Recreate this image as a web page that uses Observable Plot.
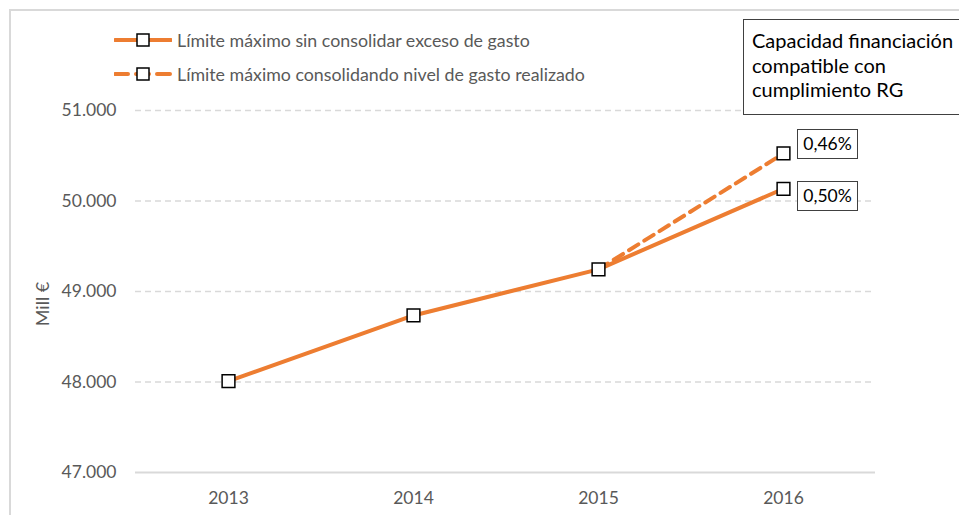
<!DOCTYPE html>
<html><head><meta charset="utf-8">
<script src="https://cdn.jsdelivr.net/npm/d3@7"></script>
<script src="https://cdn.jsdelivr.net/npm/@observablehq/plot@0.6"></script>
<style>
body{margin:0;background:#fff;font-family:Lato,"Open Sans",sans-serif;}
#wrap{position:relative;width:959px;height:515px;overflow:hidden;}
#frame{position:absolute;left:9px;top:9px;width:2000px;height:2000px;border-left:2px solid #d9d9d9;border-top:2px solid #d9d9d9;box-sizing:border-box;}
#chart{position:absolute;left:0;top:0;}
.leg{position:absolute;left:114px;display:flex;align-items:center;font-size:17.8px;color:#595959;white-space:nowrap;}
.leg svg{margin-right:5px;}
#note{position:absolute;left:743px;top:19px;width:260px;height:96px;border:1.5px solid #404040;box-sizing:border-box;padding:8px 0 0 8px;font-size:20px;line-height:24.5px;color:#000;background:#fff;white-space:nowrap;}
.pct{position:absolute;width:61px;height:30px;border:1.5px solid #404040;box-sizing:border-box;font-size:17.5px;line-height:27px;text-align:center;color:#000;background:#fff;}
#ylab{position:absolute;left:42px;top:304px;transform:translate(-50%,-50%) rotate(-90deg);font-size:18px;color:#595959;white-space:nowrap;}
</style></head>
<body>
<div id="wrap">
<div id="frame"></div>
<div id="chart"></div>
</div>
<script>
const years = ["2013", "2014", "2015", "2016"];
const solidValues = [48010, 48735, 49245, 50135];
const dashedYears = ["2015", "2016"];
const dashedValues = [49245, 50525];
const seriesNames = ["Límite máximo sin consolidar exceso de gasto", "Límite máximo consolidando nivel de gasto realizado"];
const pctLabels = ["0,50%", "0,46%"];
const yTicks = [47000, 48000, 49000, 50000, 51000];
const noteLines = ["Capacidad financiación", "compatible con", "cumplimiento RG"];
const yLabel = "Mill €";

const solid = years.map((y, i) => ({year: y, value: solidValues[i]}));
const dashed = dashedYears.map((y, i) => ({year: y, value: dashedValues[i]}));
const orange = "#ED7D31";
const fmt = v => d3.format(",")(v).replace(/,/g, ".");

const plot = Plot.plot({
  width: 959, height: 515,
  marginLeft: 135, marginRight: 84, marginTop: 110, marginBottom: 43,
  style: {fontFamily: "Lato, 'Open Sans', sans-serif", fontSize: "17.5px", color: "#595959", background: "transparent"},
  x: {type: "point", domain: years, padding: 0.5},
  y: {domain: [47000, 51000], ticks: yTicks},
  marks: [
    Plot.ruleY(yTicks.slice(1), {stroke: "#d9d9d9", strokeWidth: 1.5, strokeDasharray: "6,4"}),
    Plot.ruleY([47000], {stroke: "#d9d9d9", strokeWidth: 2}),
    Plot.axisY({ticks: yTicks, tickSize: 0, tickPadding: 19, tickFormat: fmt, label: null, fill: "#595959"}),
    Plot.axisX({tickSize: 0, tickPadding: 19, label: null, fill: "#595959"}),
    Plot.line(dashed, {x: "year", y: "value", stroke: orange, strokeWidth: 4, strokeDasharray: "11,7"}),
    Plot.line(solid, {x: "year", y: "value", stroke: orange, strokeWidth: 4}),
    Plot.dot(solid, {x: "year", y: "value", symbol: "square", r: 7.2, fill: "white", stroke: "black", strokeWidth: 1.5}),
    Plot.dot(dashed.slice(1), {x: "year", y: "value", symbol: "square", r: 7.2, fill: "white", stroke: "black", strokeWidth: 1.5})
  ]
});
document.getElementById("chart").appendChild(plot);

const wrap = document.getElementById("wrap");
// y label
const yl = document.createElement("div");
yl.id = "ylab"; yl.textContent = yLabel; wrap.appendChild(yl);
// legend
[[0, 40, null], [1, 74, "13,8"]].forEach(([i, cy, dash]) => {
  const d = document.createElement("div");
  d.className = "leg";
  d.style.top = (cy - 12) + "px";
  d.innerHTML = `<svg width="58" height="24"><line x1="1" x2="57" y1="12" y2="12" stroke="${orange}" stroke-width="4" stroke-linecap="round" ${dash ? `stroke-dasharray="${dash}"` : ""}/><rect x="23" y="6" width="12" height="12" fill="white" stroke="black" stroke-width="1.5"/></svg><span>${seriesNames[i]}</span>`;
  wrap.appendChild(d);
});
// note
const note = document.createElement("div");
note.id = "note";
noteLines.forEach((t, i) => { if (i) note.appendChild(document.createElement("br")); note.appendChild(document.createTextNode(t)); });
wrap.appendChild(note);
// pct labels
const sx = plot.scale("x"), sy = plot.scale("y");
const x16 = sx.apply("2016");
[[solidValues[3], pctLabels[0], 8], [dashedValues[1], pctLabels[1], -9]].forEach(([v, t, off]) => {
  const d = document.createElement("div");
  d.className = "pct";
  d.style.left = (x16 + 14) + "px";
  d.style.top = (sy.apply(v) + off - 15) + "px";
  d.textContent = t;
  wrap.appendChild(d);
});
</script>
</body></html>
